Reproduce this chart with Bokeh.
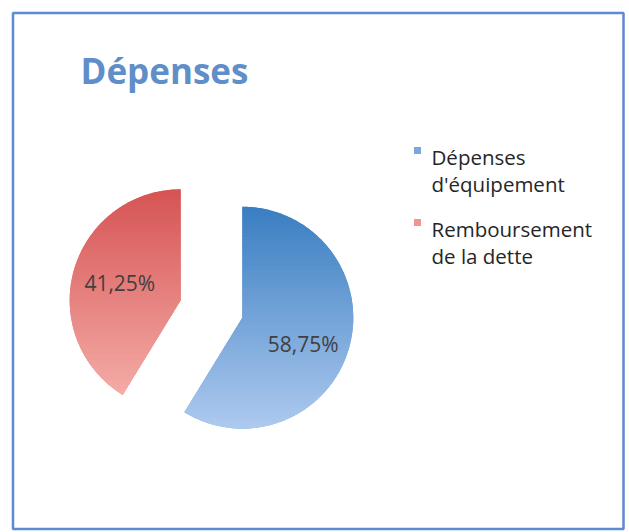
import numpy as np
from bokeh.plotting import figure
from bokeh.models import Range1d
from bokeh.core.properties import value
from bokeh.embed import file_html
from bokeh.resources import INLINE

# ---------------- data ----------------
title_text = "Dépenses"
categories = ["Dépenses d'équipement", "Remboursement de la dette"]
legend_lines = [["Dépenses", "d'équipement"], ["Remboursement", "de la dette"]]
shares = [58.75, 41.25]
pct_labels = ["58,75%", "41,25%"]

# ---------------- styles ----------------
top_colors = [(58, 126, 194), (214, 84, 84)]
bottom_colors = [(174, 202, 239), (245, 172, 167)]
legend_colors = ["#7aa7de", "#f09393"]
label_dy = [-9, 0]
FONT = "Open Sans"

W, H = 629, 532
SCR_H = 532  # data y = SCR_H - screen y

p = figure(width=W, height=H, output_backend="svg", toolbar_location=None,
           x_range=Range1d(0, W), y_range=Range1d(0, H),
           min_border=0)
p.axis.visible = False
p.grid.visible = False
p.outline_line_color = None
p.background_fill_color = "white"
p.border_fill_color = "white"

# frame border
p.quad(left=12.5, right=623, top=SCR_H - 12.5, bottom=SCR_H - 528.5,
       fill_color=None, line_color="#5b8bd0", line_width=2.5)

# title
p.text(x=[80], y=[SCR_H - 70], text=[title_text], text_font=value(FONT),
       text_font_style="bold", text_font_size="35px", text_color="#5f8ec8",
       text_baseline="alphabetic", text_align="left")

# ---------------- pie ----------------
cx0, cy0 = 211.0, SCR_H - 308.5
R = 111.0
explode = 32.0


def clip(pts, keep, inter):
    out = []
    n = len(pts)
    for i in range(n):
        cur = pts[i]
        prev = pts[i - 1]
        if keep(cur):
            if not keep(prev):
                out.append(inter(prev, cur))
            out.append(cur)
        elif keep(prev):
            out.append(inter(prev, cur))
    return out


def ix(y0):
    def f(a, b):
        t = (y0 - a[1]) / (b[1] - a[1])
        return (a[0] + t * (b[0] - a[0]), y0)
    return f


def clip_band(poly, ylo, yhi):
    pts = clip(poly, lambda q: q[1] >= ylo, ix(ylo))
    if pts:
        pts = clip(pts, lambda q: q[1] <= yhi, ix(yhi))
    return pts


total = sum(shares)
cum = 0.0
for i, s in enumerate(shares):
    a0 = np.pi / 2 - 2 * np.pi * cum / total
    cum += s
    a1 = np.pi / 2 - 2 * np.pi * cum / total
    mid = (a0 + a1) / 2
    cx = cx0 + explode * np.cos(mid)
    cy = cy0 + explode * np.sin(mid)
    tc = np.array(top_colors[i], float)
    bc = np.array(bottom_colors[i], float)
    midc = ((tc + bc) / 2).astype(int)
    base = "#%02x%02x%02x" % tuple(midc)
    p.wedge(x=[cx], y=[cy], radius=R, start_angle=a1, end_angle=a0,
            direction="anticlock", fill_color=base, line_color=None)
    # gradient strips
    angs = np.linspace(a0, a1, 300)
    poly = [(cx, cy)] + [(cx + R * np.cos(a), cy + R * np.sin(a)) for a in angs]
    ys = [q[1] for q in poly]
    ymin, ymax = min(ys), max(ys)
    N = 60
    xs_list, ys_list, cols = [], [], []
    for k in range(N):
        y_lo = ymin + (ymax - ymin) * k / N
        y_hi = ymin + (ymax - ymin) * (k + 1) / N + 0.7
        piece = clip_band(poly, y_lo, y_hi)
        if len(piece) < 3:
            continue
        t = 1 - (k + 0.5) / N  # 0 at top, 1 at bottom
        c = (tc * (1 - t) + bc * t).astype(int)
        xs_list.append([q[0] for q in piece])
        ys_list.append([q[1] for q in piece])
        cols.append("#%02x%02x%02x" % tuple(c))
    p.patches(xs=xs_list, ys=ys_list, fill_color=cols, line_color=None)
    # label
    lr = 0.57 * R
    p.text(x=[cx + lr * np.cos(mid)], y=[cy + lr * np.sin(mid) + label_dy[i]],
           text=[pct_labels[i]],
           text_font=value(FONT), text_font_size="21px", text_color="#404040",
           text_align="center", text_baseline="middle")

# ---------------- legend ----------------
leg_x = 417
leg_y0 = [150, 222]
for i, lines in enumerate(legend_lines):
    p.scatter(x=[leg_x], y=[SCR_H - leg_y0[i]], marker="square", size=7,
              fill_color=legend_colors[i], line_color=None)
    for j, ln in enumerate(lines):
        p.text(x=[431], y=[SCR_H - (leg_y0[i] + 6 + 27 * j)], text=[ln],
               text_font=value(FONT), text_font_size="20.5px", text_color="#262626",
               text_align="left", text_baseline="alphabetic")

open("out.html", "w").write(file_html(p, INLINE))
